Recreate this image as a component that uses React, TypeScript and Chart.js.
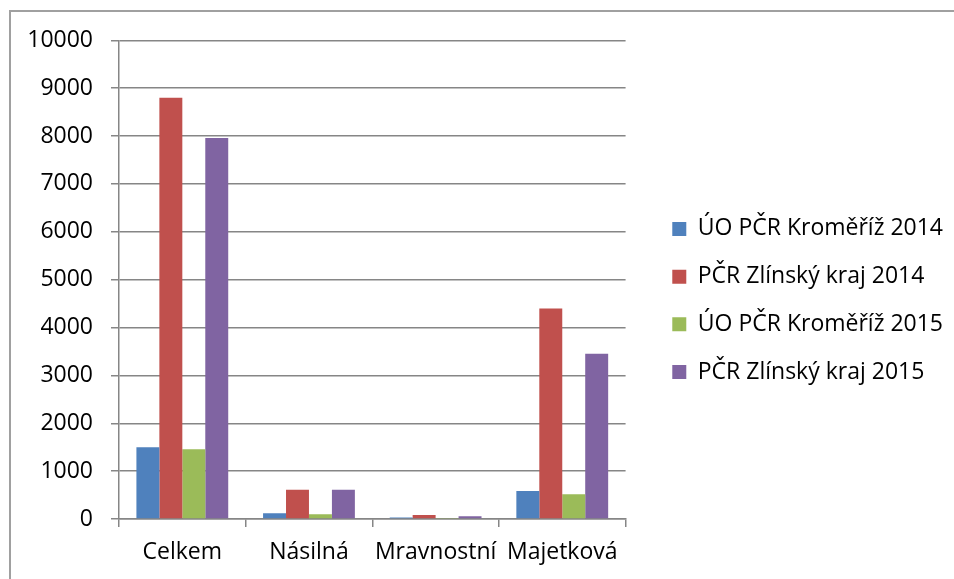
import React, { useEffect, useRef } from "react";
import { Chart, registerables } from "chart.js";

Chart.register(...registerables);

const categories = ["Celkem", "Násilná", "Mravnostní", "Majetková"];
const seriesNames = [
  "ÚO PČR Kroměříž 2014",
  "PČR Zlínský kraj 2014",
  "ÚO PČR Kroměříž 2015",
  "PČR Zlínský kraj 2015",
];
const kromeriz2014 = [1500, 120, 30, 585];
const zlinsky2014 = [8800, 610, 85, 4400];
const kromeriz2015 = [1455, 100, 8, 515];
const zlinsky2015 = [7960, 610, 58, 3450];
const yMin = 0;
const yMax = 10000;
const yStep = 1000;

const seriesColors = ["#4F81BD", "#C0504D", "#9BBB59", "#8064A2"];
const FONT = { family: "'Open Sans'", size: 23 };
const GRID = "#868686";

export default function App() {
  const ref = useRef<HTMLCanvasElement | null>(null);

  useEffect(() => {
    if (!ref.current) return;
    const values = [kromeriz2014, zlinsky2014, kromeriz2015, zlinsky2015];
    const chart = new Chart(ref.current, {
      type: "bar",
      data: {
        labels: categories,
        datasets: values.map((v, i) => ({
          label: seriesNames[i],
          data: v,
          backgroundColor: seriesColors[i],
          borderWidth: 0,
          categoryPercentage: 0.725,
          barPercentage: 1,
          yAxisID: "y",
        })),
      },
      options: {
        animation: false,
        responsive: false,
        layout: { padding: { top: 10, bottom: 0, left: 0, right: 1 } },
        plugins: {
          legend: {
            position: "right",
            maxWidth: 500,
            labels: {
              boxWidth: 14,
              boxHeight: 14,
              padding: 24.7,
              color: "#000",
              font: FONT,
            },
          },
          tooltip: { enabled: false },
        },
        scales: {
          x: {
            grid: {
              drawOnChartArea: false,
              offset: true,
              tickLength: 8,
              color: GRID,
              lineWidth: 1.5,
            },
            border: { color: GRID, width: 1.5 },
            ticks: { font: FONT, color: "#000", padding: 12, maxRotation: 0 },
            afterFit: (s: any) => {
              s.height = 60;
            },
          },
          y: {
            min: yMin,
            max: yMax,
            ticks: {
              stepSize: yStep,
              font: { ...FONT, lineHeight: 0.9 },
              color: "#000",
              padding: 18,
              callback: (v: any) => String(v),
            },
            grid: { color: GRID, lineWidth: 1.5, tickLength: 8 },
            border: { color: GRID, width: 1.5 },
            afterFit: (s: any) => {
              s.width = 108;
            },
          },
          y2: {
            type: "linear",
            position: "right",
            grid: { display: false },
            ticks: { display: false },
            border: { display: false },
            afterFit: (s: any) => {
              s.width = 22;
            },
          },
        },
      },
    });
    return () => chart.destroy();
  }, []);

  return (
    <div
      style={{
        position: "fixed",
        left: 9,
        top: 10,
        width: 945,
        height: 569,
        boxSizing: "border-box",
        borderLeft: "2px solid #a0a0a0",
        borderTop: "2px solid #a0a0a0",
        overflow: "hidden",
        background: "#fff",
      }}
    >
      <canvas ref={ref} width={943} height={567} style={{ display: "block", width: 943, height: 567 }} />
    </div>
  );
}
